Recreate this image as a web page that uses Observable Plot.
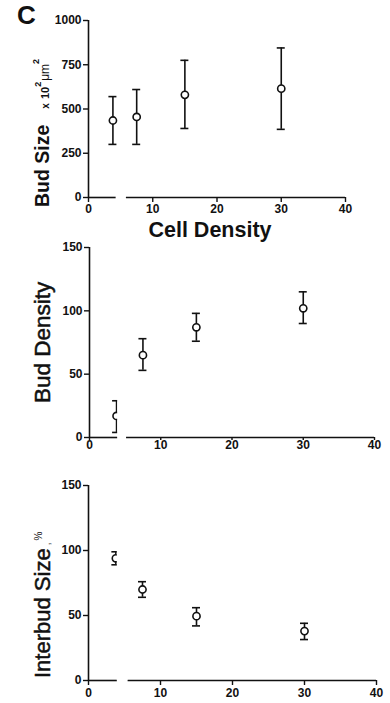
<!DOCTYPE html>
<html><head><meta charset="utf-8">
<script src="https://cdn.jsdelivr.net/npm/d3@7"></script>
<script src="https://cdn.jsdelivr.net/npm/@observablehq/plot@0.6"></script>
<style>
body{margin:0;background:#fff;}
#wrap{position:relative;width:390px;height:703px;overflow:hidden;font-family:"Liberation Sans",Arial,sans-serif;background:#fff;}
.panel{position:absolute;left:0;}
#overlay{position:absolute;left:0;top:0;pointer-events:none;}
</style></head><body><div id="wrap"></div>
<script>
// ---- data ----
const cellDensity = [3.8, 7.5, 15, 30];
const xTicks = [0, 10, 20, 30, 40];

const budSize   = [435, 455, 580, 615];
const budSizeLo = [300, 300, 390, 385];
const budSizeHi = [570, 610, 775, 845];
const budSizeTicks = [0, 250, 500, 750, 1000];

const budDensity   = [17, 65, 87, 102];
const budDensityLo = [4, 53, 76, 90];
const budDensityHi = [29, 78, 98, 115];
const budDensityTicks = [0, 50, 100, 150];

const interbud   = [94, 70, 49.5, 38];
const interbudLo = [89, 64, 42, 31.5];
const interbudHi = [99, 76, 56, 44];
const interbudTicks = [0, 50, 100, 150];

// axis break (x units) per panel
const breakP1 = [4.3, 5.9];
const breakP2 = [3.95, 5.2];
const breakP3 = [4.0, 5.5];

const INK = "#111";
const wrap = document.getElementById("wrap");

function panel({top, height, mt, mb, ml, mr, vals, lo, hi, yDomain, yTicks, brk, mask, xTickSize, xTickPad}) {
  const data = cellDensity.map((x, i) => ({x, y: vals[i], lo: lo[i], hi: hi[i]}));
  const segs = [{x1: 0, x2: brk[0]}, {x1: brk[1], x2: 40}];
  const marks = [
    Plot.ruleX([0], {stroke: INK, strokeWidth: 1.6}),
    Plot.ruleY(segs, {x1: "x1", x2: "x2", y: () => 0, stroke: INK, strokeWidth: 1.6}),
    Plot.axisY({ticks: yTicks, tickSize: 5, tickPadding: 2, tickFormat: d3.format("d"), label: null, stroke: INK, strokeWidth: 1.4}),
    Plot.axisX({ticks: xTicks, tickSize: xTickSize, tickPadding: xTickPad, tickFormat: d3.format("d"), label: null, stroke: INK, strokeWidth: 1.4}),
    Plot.ruleX(data, {x: "x", y1: "lo", y2: "hi", stroke: INK, strokeWidth: 1.6}),
    Plot.ruleY(data, {x1: "x", x2: "x", y: "hi", insetLeft: -4, insetRight: -4, stroke: INK, strokeWidth: 1.6}),
    Plot.ruleY(data, {x1: "x", x2: "x", y: "lo", insetLeft: -4, insetRight: -4, stroke: INK, strokeWidth: 1.6}),
    Plot.dot(data, {x: "x", y: "y", r: 3.6, stroke: INK, fill: "white", strokeWidth: 1.6})
  ];
  if (mask) {
    marks.push(Plot.rect([{x1: brk[0], x2: brk[1]}], {x1: "x1", x2: "x2", y1: yDomain[0] + (yDomain[1]-yDomain[0])*0.002, y2: yDomain[1], fill: "white"}));
  }
  const p = Plot.plot({
    width: 390, height,
    marginTop: mt, marginBottom: mb, marginLeft: ml, marginRight: mr,
    x: {domain: [0, 40]},
    y: {domain: yDomain},
    style: {background: "transparent", color: INK, fontFamily: '"Liberation Sans", Arial, sans-serif', fontSize: "12px", fontWeight: "bold"},
    marks
  });
  p.classList.add("panel");
  p.style.top = top + "px";
  wrap.appendChild(p);
}

panel({top: 0, height: 245, mt: 20, mb: 48, ml: 88, mr: 45, vals: budSize, lo: budSizeLo, hi: budSizeHi,
  yDomain: [0, 1000], yTicks: budSizeTicks, brk: breakP1, mask: false, xTickSize: 5, xTickPad: 2});
panel({top: 240, height: 227, mt: 7, mb: 30, ml: 89, mr: 16, vals: budDensity, lo: budDensityLo, hi: budDensityHi,
  yDomain: [0, 150], yTicks: budDensityTicks, brk: breakP2, mask: true, xTickSize: 3, xTickPad: 0});
panel({top: 470, height: 233, mt: 15, mb: 23, ml: 88, mr: 14, vals: interbud, lo: interbudLo, hi: interbudHi,
  yDomain: [0, 150], yTicks: interbudTicks, brk: breakP3, mask: true, xTickSize: 5, xTickPad: 3});

// ---- text overlay ----
const ov = d3.select(wrap).append("svg").attr("id", "overlay").attr("width", 390).attr("height", 703)
  .style("font-family", '"Liberation Sans", Arial, sans-serif').attr("fill", INK);

ov.append("text").attr("x", 17).attr("y", 24).style("font-size", "26px").style("font-weight", "bold").text("C");

ov.append("text").attr("x", 210).attr("y", 237).attr("text-anchor", "middle")
  .style("font-size", "21.5px").style("font-weight", "bold").text("Cell Density");

const t1 = ov.append("text").attr("transform", "translate(49,207) rotate(-90)");
t1.append("tspan").style("font-size", "19.5px").style("font-weight", "bold").text("Bud Size");
t1.append("tspan").attr("dx", 16).style("font-size", "10px").style("font-weight", "bold").text("x");
t1.append("tspan").attr("dx", 4).style("font-size", "11px").style("font-weight", "bold").text("10");
t1.append("tspan").attr("dy", -8).style("font-size", "9px").style("font-weight", "bold").text("2");
t1.append("tspan").attr("dy", 8).attr("dx", 1).style("font-size", "12px").text("\u03BCm");
t1.append("tspan").attr("dy", -10).style("font-size", "9px").style("font-weight", "bold").text("2");

ov.append("text").attr("transform", "translate(50,403) rotate(-90)")
  .attr("stroke", INK).attr("stroke-width", 0.5)
  .style("font-size", "22.5px").text("Bud Density");

const t3 = ov.append("text").attr("transform", "translate(50,678) rotate(-90)");
t3.append("tspan").attr("stroke", INK).attr("stroke-width", 0.5).style("font-size", "22px").text("Interbud Size");
t3.append("tspan").attr("dx", 3).style("font-size", "10px").text(",");
t3.append("tspan").attr("dx", 2).attr("dy", -8).style("font-size", "10px").text("%");
</script></body></html>
